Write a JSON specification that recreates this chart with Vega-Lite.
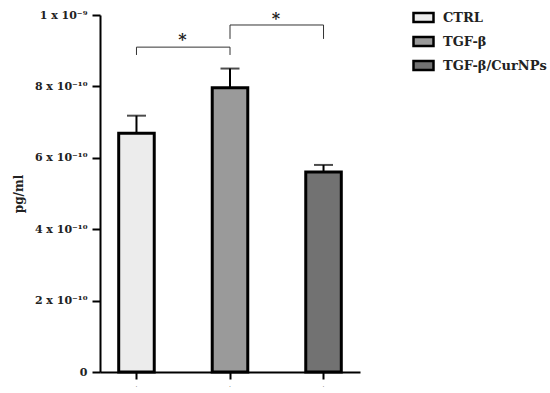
{
  "$schema": "https://vega.github.io/schema/vega-lite/v6.json",
  "autosize": "none",
  "width": 260,
  "height": 357,
  "padding": {"left": 100, "top": 15, "right": 190, "bottom": 21},
  "background": "white",
  "config": {
    "view": {"stroke": null},
    "font": "DejaVu Serif"
  },
  "datasets": {
    "bars": [
      {"group": "CTRL", "mean": 6.69e-10, "hi": 7.18e-10},
      {"group": "TGF-β", "mean": 7.96e-10, "hi": 8.5e-10},
      {"group": "TGF-β/CurNPs", "mean": 5.6e-10, "hi": 5.8e-10}
    ],
    "brackets": [
      {"bracket": "a", "group": "CTRL", "level": 8.88e-10, "o": 1},
      {"bracket": "a", "group": "CTRL", "level": 9.1e-10, "o": 2},
      {"bracket": "a", "group": "TGF-β", "level": 9.1e-10, "o": 3},
      {"bracket": "a", "group": "TGF-β", "level": 8.88e-10, "o": 4},
      {"bracket": "b", "group": "TGF-β", "level": 9.33e-10, "o": 1},
      {"bracket": "b", "group": "TGF-β", "level": 9.72e-10, "o": 2},
      {"bracket": "b", "group": "TGF-β/CurNPs", "level": 9.72e-10, "o": 3},
      {"bracket": "b", "group": "TGF-β/CurNPs", "level": 9.33e-10, "o": 4}
    ],
    "stars": [
      {"group": "CTRL", "level": 9.3e-10, "label": "*"},
      {"group": "TGF-β", "level": 9.9e-10, "label": "*"}
    ]
  },
  "encoding": {
    "x": {
      "field": "group",
      "type": "nominal",
      "sort": ["CTRL", "TGF-β", "TGF-β/CurNPs"],
      "scale": {"domain": ["CTRL", "TGF-β", "TGF-β/CurNPs"], "paddingInner": 0.62, "paddingOuter": 0.2},
      "axis": {
        "title": null,
        "domainColor": "black",
        "domainWidth": 2,
        "tickColor": "black",
        "tickWidth": 2,
        "tickSize": 7,
        "bandPosition": 0.5,
        "labelExpr": "'.'",
        "labelFontSize": 6,
        "labelAngle": 0,
        "labelPadding": 2,
        "labelColor": "#444"
      }
    }
  },
  "layer": [
    {
      "data": {"name": "bars"},
      "mark": {"type": "rule", "stroke": "black", "strokeWidth": 2},
      "encoding": {
        "y": {
          "field": "mean",
          "type": "quantitative",
          "scale": {"domain": [0, 1e-9], "nice": false},
          "axis": {
            "title": "pg/ml",
            "titleFont": "DejaVu Serif",
            "titleFontSize": 12,
            "titleFontWeight": "bold",
            "titleColor": "#222",
            "titlePadding": 9,
            "values": [0, 2e-10, 4e-10, 6e-10, 8e-10, 1e-9],
            "labelExpr": "datum.value == 0 ? '0' : datum.value >= 9.99e-10 ? '1 x 10⁻⁹' : format(datum.value * 1e10, '.0f') + ' x 10⁻¹⁰'",
            "labelFont": "DejaVu Serif",
            "labelFontSize": 11,
            "labelFontWeight": "bold",
            "labelColor": "#222",
            "labelPadding": 5,
            "grid": false,
            "domainColor": "black",
            "domainWidth": 2,
            "tickColor": "black",
            "tickWidth": 2,
            "tickSize": 8
          }
        },
        "y2": {"field": "hi"}
      }
    },
    {
      "data": {"name": "bars"},
      "mark": {"type": "tick", "orient": "horizontal", "color": "black", "thickness": 2, "size": 19},
      "encoding": {
        "y": {"field": "hi", "type": "quantitative"}
      }
    },
    {
      "data": {"name": "bars"},
      "mark": {"type": "bar", "stroke": "black", "strokeWidth": 3, "opacity": 1},
      "encoding": {
        "y": {"field": "mean", "type": "quantitative"},
        "color": {
          "field": "group",
          "type": "nominal",
          "scale": {"domain": ["CTRL", "TGF-β", "TGF-β/CurNPs"], "range": ["#ececec", "#9a9a9a", "#727272"]},
          "legend": {
            "title": null,
            "orient": "none",
            "legendX": 312,
            "legendY": -9,
            "symbolType": "M-1,-0.45H1V0.45H-1Z",
            "symbolSize": 400,
            "symbolStrokeColor": "black",
            "symbolStrokeWidth": 2.5,
            "symbolOpacity": 1,
            "labelFont": "DejaVu Serif",
            "labelFontSize": 13,
            "labelFontWeight": "bold",
            "labelColor": "#222",
            "labelOffset": 8,
            "rowPadding": 3
          }
        }
      }
    },
    {
      "data": {"name": "brackets"},
      "mark": {"type": "line", "stroke": "#333", "strokeWidth": 1},
      "encoding": {
        "y": {"field": "level", "type": "quantitative"},
        "detail": {"field": "bracket"},
        "order": {"field": "o", "type": "quantitative"}
      }
    },
    {
      "data": {"name": "stars"},
      "mark": {"type": "text", "dx": 46, "fontSize": 16, "fontWeight": "bold", "font": "DejaVu Serif", "baseline": "middle", "color": "#222"},
      "encoding": {
        "y": {"field": "level", "type": "quantitative"},
        "text": {"field": "label"}
      }
    }
  ]
}
